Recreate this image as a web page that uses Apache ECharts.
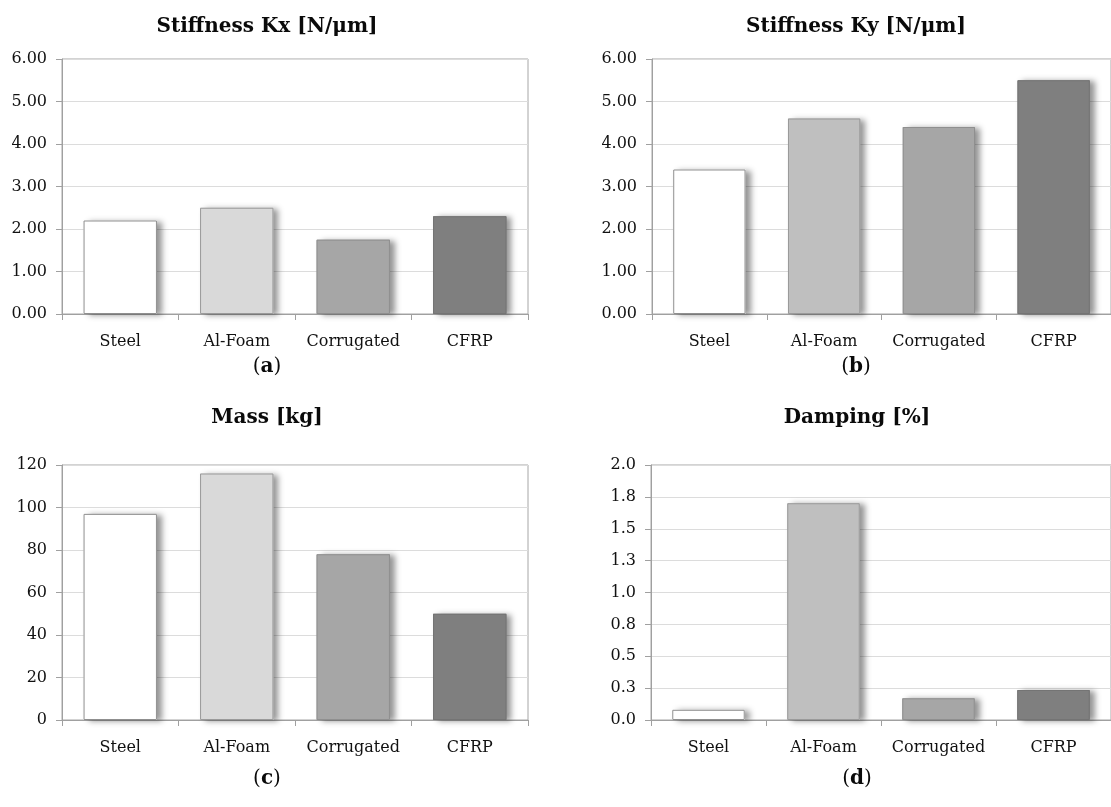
<!DOCTYPE html>
<html>
<head>
<meta charset="utf-8">
<script src="https://cdn.jsdelivr.net/npm/echarts@6/dist/echarts.min.js"></script>
<style>
  html, body { margin: 0; padding: 0; background: #ffffff; }
  #chart { width: 1111px; height: 807px; }
</style>
</head>
<body>
<div id="chart"></div>
<script>
// Panel content
const categories = ['Steel', 'Al-Foam', 'Corrugated', 'CFRP'];

const stiffnessKx = [2.2, 2.5, 1.75, 2.3];
const stiffnessKy = [3.4, 4.6, 4.4, 5.5];
const massKg = [97, 116, 78, 50];
const dampingPct = [0.08, 1.70, 0.17, 0.235];

const stiffnessTicks = ['0.00', '1.00', '2.00', '3.00', '4.00', '5.00', '6.00'];
const massTicks = ['0', '20', '40', '60', '80', '100', '120'];
const dampingTicks = ['0.0', '0.3', '0.5', '0.8', '1.0', '1.3', '1.5', '1.8', '2.0'];

const panelTitles = ['Stiffness Kx [N/\u03bcm]', 'Stiffness Ky [N/\u03bcm]', 'Mass [kg]', 'Damping [%]'];
const panelLetters = ['a', 'b', 'c', 'd'];

// Bar fills per panel (Steel, Al-Foam, Corrugated, CFRP)
const fillsAC = ['#ffffff', '#d9d9d9', '#a6a6a6', '#7f7f7f'];
const fillsBD = ['#ffffff', '#bfbfbf', '#a6a6a6', '#7f7f7f'];
const borders = ['#8f8f8f', '#9a9a9a', '#8f8f8f', '#747474'];

const SERIF = '"DejaVu Serif", "Liberation Serif", serif';
const TEXT = '#111111';

const grids = [
  { left: 62,  top: 59,  width: 466, height: 255 },
  { left: 652, top: 59,  width: 465, height: 255 },
  { left: 62,  top: 465, width: 466, height: 255 },
  { left: 651, top: 465, width: 466, height: 255 }
];

const panels = [
  { data: stiffnessKx, ticks: stiffnessTicks, max: 6, interval: 1, fills: fillsAC },
  { data: stiffnessKy, ticks: stiffnessTicks, max: 6, interval: 1, fills: fillsBD },
  { data: massKg, ticks: massTicks, max: 120, interval: 20, fills: fillsAC },
  { data: dampingPct, ticks: dampingTicks, max: 2, interval: 0.25, fills: fillsBD }
];

const titleX = [267, 856, 267, 857];
const titleY = [27, 27, 418, 418];
const letterY = [367, 367, 779, 779];

// Each panel: a shadow layer underneath and a bordered layer on top,
// so the drop shadow only shows outside the bar.
const series = [];
panels.forEach((p, i) => {
  series.push({
    type: 'bar', xAxisIndex: i, yAxisIndex: i, barWidth: '63%', barGap: '-100%',
    silent: true,
    data: p.data.map((v, k) => ({
      value: v,
      itemStyle: {
        color: p.fills[k],
        shadowColor: 'rgba(0,0,0,0.42)',
        shadowBlur: 6,
        shadowOffsetX: 5,
        shadowOffsetY: 1
      }
    }))
  });
  series.push({
    type: 'bar', xAxisIndex: i, yAxisIndex: i, barWidth: '63%', barGap: '-100%',
    data: p.data.map((v, k) => ({
      value: v,
      itemStyle: { color: p.fills[k], borderColor: borders[k], borderWidth: 1 }
    }))
  });
});

const option = {
  backgroundColor: '#ffffff',
  animation: false,
  grid: grids.map(g => Object.assign({
    show: true, borderColor: '#a6a6a6', borderWidth: 1, backgroundColor: 'transparent'
  }, g)),
  xAxis: panels.map((p, i) => ({
    type: 'category',
    gridIndex: i,
    data: categories,
    axisLine: { show: true, lineStyle: { color: '#a0a0a0', width: 1 } },
    axisTick: { show: true, length: 6, alignWithLabel: false, lineStyle: { color: '#a0a0a0' } },
    axisLabel: {
      color: TEXT, fontFamily: SERIF, fontSize: 16, margin: 20,
      interval: 0, hideOverlap: false
    },
    splitLine: { show: false }
  })),
  yAxis: panels.map((p, i) => ({
    type: 'value',
    gridIndex: i,
    min: 0,
    max: p.max,
    interval: p.interval,
    axisLine: { show: true, lineStyle: { color: '#a0a0a0', width: 1 } },
    axisTick: { show: true, length: 6, lineStyle: { color: '#a0a0a0' } },
    axisLabel: {
      color: TEXT, fontFamily: SERIF, fontSize: 16, margin: 15,
      formatter: (v, idx) => p.ticks[idx]
    },
    splitLine: { show: true, lineStyle: { color: '#dcdcdc', width: 1 } }
  })),
  series: series,
  graphic: [].concat(
    panelTitles.map((t, i) => ({
      type: 'text',
      x: titleX[i], y: titleY[i],
      style: {
        text: t, fill: '#0a0a0a',
        font: 'bold 20px ' + SERIF,
        textAlign: 'center', textVerticalAlign: 'middle'
      }
    })),
    panelLetters.map((l, i) => ({
      type: 'text',
      x: titleX[i], y: letterY[i],
      style: {
        text: '{r|(}{b|' + l + '}{r|)}',
        textAlign: 'center', textVerticalAlign: 'middle',
        rich: {
          r: { font: '20px ' + SERIF, fill: '#0a0a0a' },
          b: { font: 'bold 20px ' + SERIF, fill: '#0a0a0a' }
        }
      }
    }))
  )
};

const chart = echarts.init(document.getElementById('chart'), null, { renderer: 'canvas' });
chart.setOption(option);
</script>
</body>
</html>
